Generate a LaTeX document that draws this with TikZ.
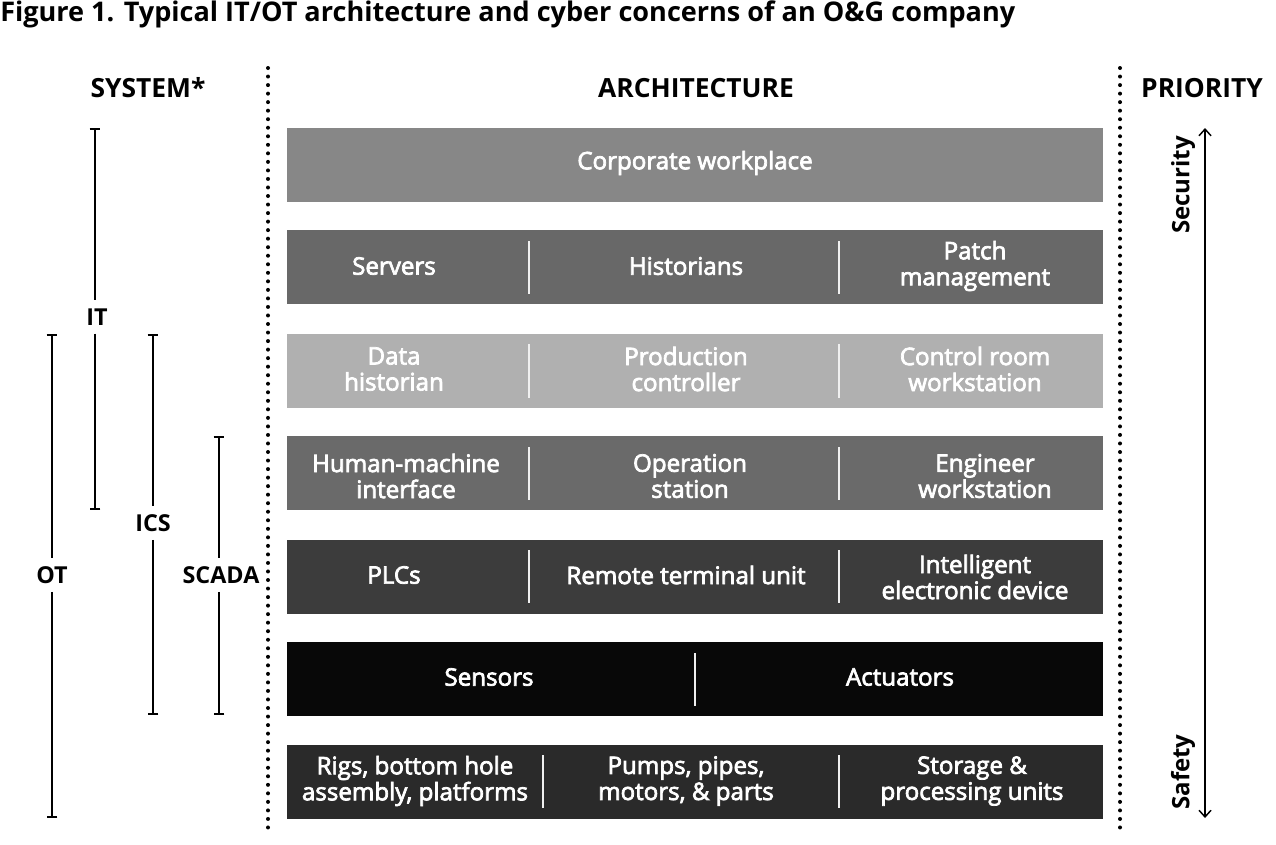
\documentclass[tikz,border=0pt]{standalone}
\usepackage{fontspec}
\setmainfont{Open Sans}
\newfontfamily\cellfont{Open Sans}[FakeBold=3]
\usetikzlibrary{arrows.meta}
\definecolor{rowA}{HTML}{878787}
\definecolor{rowB}{HTML}{686868}
\definecolor{rowC}{HTML}{B0B0B0}
\definecolor{rowD}{HTML}{6A6A6A}
\definecolor{rowE}{HTML}{3C3C3C}
\definecolor{rowF}{HTML}{080808}
\definecolor{rowG}{HTML}{2A2A2A}
\begin{document}
\begin{tikzpicture}[
        x=0.75pt, y=-0.75pt,
        bar/.style={minimum width=612pt, minimum height=55.5pt, inner sep=0pt},
        cell/.style={text=white, align=center, inner sep=0pt, font=\cellfont\fontsize{18.1}{19.5}\selectfont},
        head/.style={font=\bfseries\fontsize{19.8}{22}\selectfont},
        syslabel/.style={font=\bfseries\fontsize{17.5}{20}\selectfont, inner sep=6pt},
        sep/.style={draw=white!88!gray, line width=1pt},
        dotline/.style={line width=3pt, line cap=round, dash pattern=on 0pt off 6.4pt},
        span/.style={line width=1.3pt}
    ]
        \useasboundingbox (0,0) rectangle (1276,844);

        \node[head, anchor=west, inner sep=0pt, font=\bfseries\fontsize{20.3}{22}\selectfont] (title) at (0,14) {Figure 1. Typical IT/OT architecture and cyber concerns of an O\&G company};
        \node[head] (system) at (148,88) {SYSTEM*};
        \node[head] (architecture) at (696,88) {ARCHITECTURE};
        \node[head] (priority) at (1202,88) {PRIORITY};

        \node[bar, fill=rowA] (corporate) at (695,165) {};
        \node[bar, fill=rowB] (business) at (695,267) {};
        \node[bar, fill=rowC] (supervisory) at (695,370.5) {};
        \node[bar, fill=rowD] (operator) at (695,473) {};
        \node[bar, fill=rowE] (control) at (695,577) {};
        \node[bar, fill=rowF] (field) at (695,679) {};
        \node[bar, fill=rowG] (physical) at (695,782) {};

        \node[cell] (workplace) at (695,163) {Corporate workplace};

        \node[cell] (servers) at (394,266) {Servers};
        \node[cell] (historians) at (686,266) {Historians};
        \node[cell] (patch) at (975,266) {Patch\\management};

        \node[cell] (datahist) at (394,369) {Data\\historian};
        \node[cell] (prodctrl) at (686,369) {Production\\controller};
        \node[cell] (ctrlroom) at (975,369) {Control room\\workstation};

        \node[cell] (hmi) at (406,476) {Human-machine\\interface};
        \node[cell] (opstation) at (690,476) {Operation\\station};
        \node[cell] (engws) at (985,476) {Engineer\\workstation};

        \node[cell] (plcs) at (394,575) {PLCs};
        \node[cell] (rtu) at (686,575) {Remote terminal unit};
        \node[cell] (ied) at (975,577) {Intelligent\\electronic device};

        \node[cell] (sensors) at (489,677) {Sensors};
        \node[cell] (actuators) at (900,677) {Actuators};

        \node[cell] (rigs) at (415,781) {Rigs, bottom hole\\assembly, platforms};
        \node[cell] (pumps) at (686,781) {Pumps, pipes,\\motors, \& parts};
        \node[cell] (storage) at (972,781) {Storage \&\\processing units};

        \draw[sep] (529,241) -- (529,294);
        \draw[sep] (839,241) -- (839,294);
        \draw[sep] (529,344) -- (529,398);
        \draw[sep] (839,344) -- (839,398);
        \draw[sep] (529,447) -- (529,500);
        \draw[sep] (839,447) -- (839,500);
        \draw[sep] (529,550) -- (529,603);
        \draw[sep] (839,550) -- (839,603);
        \draw[sep] (695,653) -- (695,706);
        \draw[sep] (543,755) -- (543,808);
        \draw[sep] (839,755) -- (839,808);

        \coordinate (leftdottop) at (268,68);
        \coordinate (leftdotbot) at (268,828);
        \coordinate (rightdottop) at (1120,68);
        \coordinate (rightdotbot) at (1120,828);
        \draw[dotline] (leftdottop) -- (leftdotbot);
        \draw[dotline] (rightdottop) -- (rightdotbot);

        \node[syslabel] (it) at (97,317) {IT};
        \node[syslabel] (ot) at (52,575) {OT};
        \node[syslabel] (ics) at (153,523) {ICS};
        \node[syslabel] (scada) at (221,575) {SCADA};
        \coordinate (ittop) at (95,128);
        \coordinate (itbot) at (95,510);
        \coordinate (ottop) at (52,334);
        \coordinate (otbot) at (52,818);
        \coordinate (icstop) at (153,334);
        \coordinate (icsbot) at (153,715);
        \coordinate (scadatop) at (219,436);
        \coordinate (scadabot) at (219,715);

        \draw[span, {Bar[width=8pt]}-] (ittop) -- (ittop |- it.north);
        \draw[span, -{Bar[width=8pt]}] (itbot |- it.south) -- (itbot);
        \draw[span, {Bar[width=8pt]}-] (ottop) -- (ot);
        \draw[span, -{Bar[width=8pt]}] (ot) -- (otbot);
        \draw[span, {Bar[width=8pt]}-] (icstop) -- (ics);
        \draw[span, -{Bar[width=8pt]}] (ics) -- (icsbot);
        \draw[span, {Bar[width=8pt]}-] (scadatop) -- (scadatop |- scada.north);
        \draw[span, -{Bar[width=8pt]}] (scadabot |- scada.south) -- (scadabot);

        \coordinate (prioritytop) at (1205,128);
        \coordinate (prioritybot) at (1205,818);
        \draw[line width=1.1pt, {Straight Barb[length=5pt, width=9pt]}-{Straight Barb[length=5pt, width=9pt]}] (prioritytop) -- (prioritybot);
        \node[head, rotate=90, font=\bfseries\fontsize{18}{20}\selectfont] (security) at (1183,185) {Security};
        \node[head, rotate=90, font=\bfseries\fontsize{18}{20}\selectfont] (safety) at (1183,772) {Safety};
    \end{tikzpicture}
\end{document}
